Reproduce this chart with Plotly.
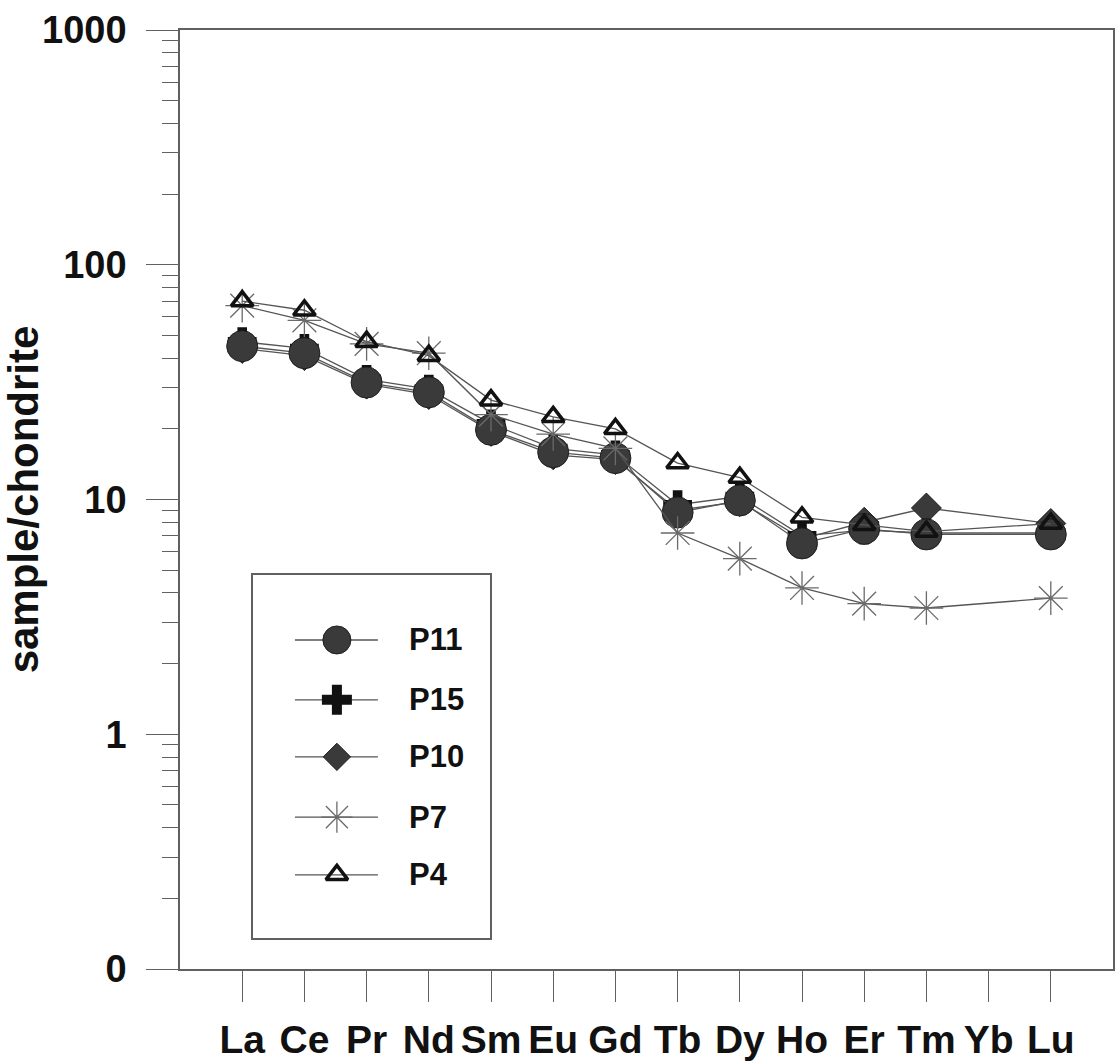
import plotly.graph_objects as go

elements = ["La", "Ce", "Pr", "Nd", "Sm", "Eu", "Gd", "Tb", "Dy", "Ho", "Er", "Tm", "Yb", "Lu"]

P11 = [45, 42, 31.5, 28.6, 19.8, 15.9, 15.0, 8.8, 9.9, 6.5, 7.5, 7.1, None, 7.1]
P15 = [47, 44, 32.5, 29.5, 21, 16.5, 15.5, 9.5, 10.3, 7.0, 7.4, 7.2, None, 7.2]
P10 = [44, 41, 31, 28, 19.5, 15.5, 14.8, 9.0, 9.8, 6.8, 8.0, 9.2, None, 7.9]
P7 = [67, 58, 46, 42, 23, 19, 16.5, 7.2, 5.6, 4.2, 3.6, 3.45, None, 3.8]
P4 = [70, 64, 47, 41, 26.5, 22.5, 20, 14.3, 12.4, 8.4, 7.8, 7.3, None, 7.9]

series_names = ["P11", "P15", "P10", "P7", "P4"]
y_tickvals = [0.1, 1, 10, 100, 1000]
y_ticktext = ["0", "1", "10", "100", "1000"]

LINE = "#555555"
AX = "#606060"
FONT = "Liberation Sans, Arial, sans-serif"

styles = {
    "P11": dict(symbol="circle", size=31, color="#3a3a3a", line=dict(color="#1e1e1e", width=1)),
    "P15": dict(symbol="cross", size=24, color="#111111", line=dict(color="#111111", width=0)),
    "P10": dict(symbol="diamond", size=23, color="#3a3a3a", line=dict(color="#1e1e1e", width=1)),
    "P7": dict(symbol="asterisk-open", size=28, color="#6a6a6a", line=dict(color="#6a6a6a", width=1.3)),
    "P4": dict(symbol="triangle-up-open", size=19, color="#111111", line=dict(color="#111111", width=3.5)),
}
legend_styles = {
    "P11": dict(symbol="circle", size=28, color="#3a3a3a", line=dict(color="#1e1e1e", width=1)),
    "P15": dict(symbol="cross", size=25, color="#111111", line=dict(color="#111111", width=0)),
    "P10": dict(symbol="diamond", size=21, color="#3a3a3a", line=dict(color="#1e1e1e", width=1)),
    "P7": dict(symbol="asterisk-open", size=26, color="#6a6a6a", line=dict(color="#6a6a6a", width=1.3)),
    "P4": dict(symbol="triangle-up-open", size=19, color="#111111", line=dict(color="#111111", width=3.5)),
}
data = {"P11": P11, "P15": P15, "P10": P10, "P7": P7, "P4": P4}

fig = go.Figure()

draw_order = ["P10", "P15", "P11", "P7", "P4"]
for name in draw_order:
    fig.add_trace(go.Scatter(
        x=elements, y=data[name], mode="lines+markers", name=name,
        connectgaps=True, showlegend=False,
        line=dict(color=LINE, width=1.3),
        marker=styles[name],
    ))

# custom legend drawn in an overlay axis
legend_rows = [0.821, 0.656, 0.499, 0.333, 0.174]
for name, yy in zip(series_names, legend_rows):
    fig.add_trace(go.Scatter(
        x=[0.177, 0.527], y=[yy, yy], mode="lines", xaxis="x2", yaxis="y2",
        line=dict(color=LINE, width=1.3), showlegend=False, hoverinfo="skip",
    ))
    fig.add_trace(go.Scatter(
        x=[0.354], y=[yy], mode="markers", xaxis="x2", yaxis="y2",
        marker=legend_styles[name], showlegend=False, hoverinfo="skip",
    ))
    fig.add_annotation(
        x=0.65, y=yy, xref="x2", yref="y2", text="<b>%s</b>" % name,
        showarrow=False, xanchor="left", yanchor="middle",
        font=dict(family=FONT, size=31, color="#111111"),
    )

W, H = 1117, 1061
ml, mr, mt, mb = 180, 4, 30, 92
pw, ph = W - ml - mr, H - mt - mb

fig.update_layout(
    width=W, height=H,
    margin=dict(l=ml, r=mr, t=mt, b=mb, pad=0),
    paper_bgcolor="white", plot_bgcolor="white",
    showlegend=False,
    xaxis=dict(
        type="category", categoryorder="array", categoryarray=elements,
        range=[-1, 14], showgrid=False, zeroline=False, automargin=False,
        showline=True, mirror=True, linecolor=AX, linewidth=1.5,
        ticks="outside", ticklen=31, tickwidth=1.3, tickcolor=AX,
        tickangle=0, ticklabelstandoff=4,
        tickfont=dict(family=FONT, size=39, color="#111111", weight="bold"),
    ),
    yaxis=dict(
        type="log", range=[-1, 3], showgrid=False, zeroline=False, automargin=False,
        showline=True, mirror=True, linecolor=AX, linewidth=1.5,
        tickmode="array", tickvals=y_tickvals, ticktext=y_ticktext,
        ticks="outside", ticklen=32, tickwidth=1.3, tickcolor=AX,
        ticklabelstandoff=12,
        tickfont=dict(family=FONT, size=38, color="#111111", weight="bold"),
        minor=dict(
            tickmode="array",
            tickvals=[m * d for d in [0.1, 1, 10, 100] for m in range(2, 10)],
            ticks="outside", ticklen=16, tickwidth=1.3, tickcolor=AX, showgrid=False,
        ),
        title=dict(text="sample/chondrite", standoff=14,
                   font=dict(family=FONT, size=42, color="#111111", weight="bold")),
    ),
    xaxis2=dict(
        domain=[(253 - ml) / pw, (490 - ml) / pw], range=[0, 1], anchor="y2",
        showgrid=False, zeroline=False, showticklabels=False, ticks="",
        showline=True, mirror=True, linecolor=AX, linewidth=1.5, fixedrange=True,
    ),
    yaxis2=dict(
        domain=[(H - mb - 938) / ph, (H - mb - 575) / ph], range=[0, 1], anchor="x2",
        showgrid=False, zeroline=False, showticklabels=False, ticks="",
        showline=True, mirror=True, linecolor=AX, linewidth=1.5, fixedrange=True,
    ),
)

fig.write_html("out.html")
